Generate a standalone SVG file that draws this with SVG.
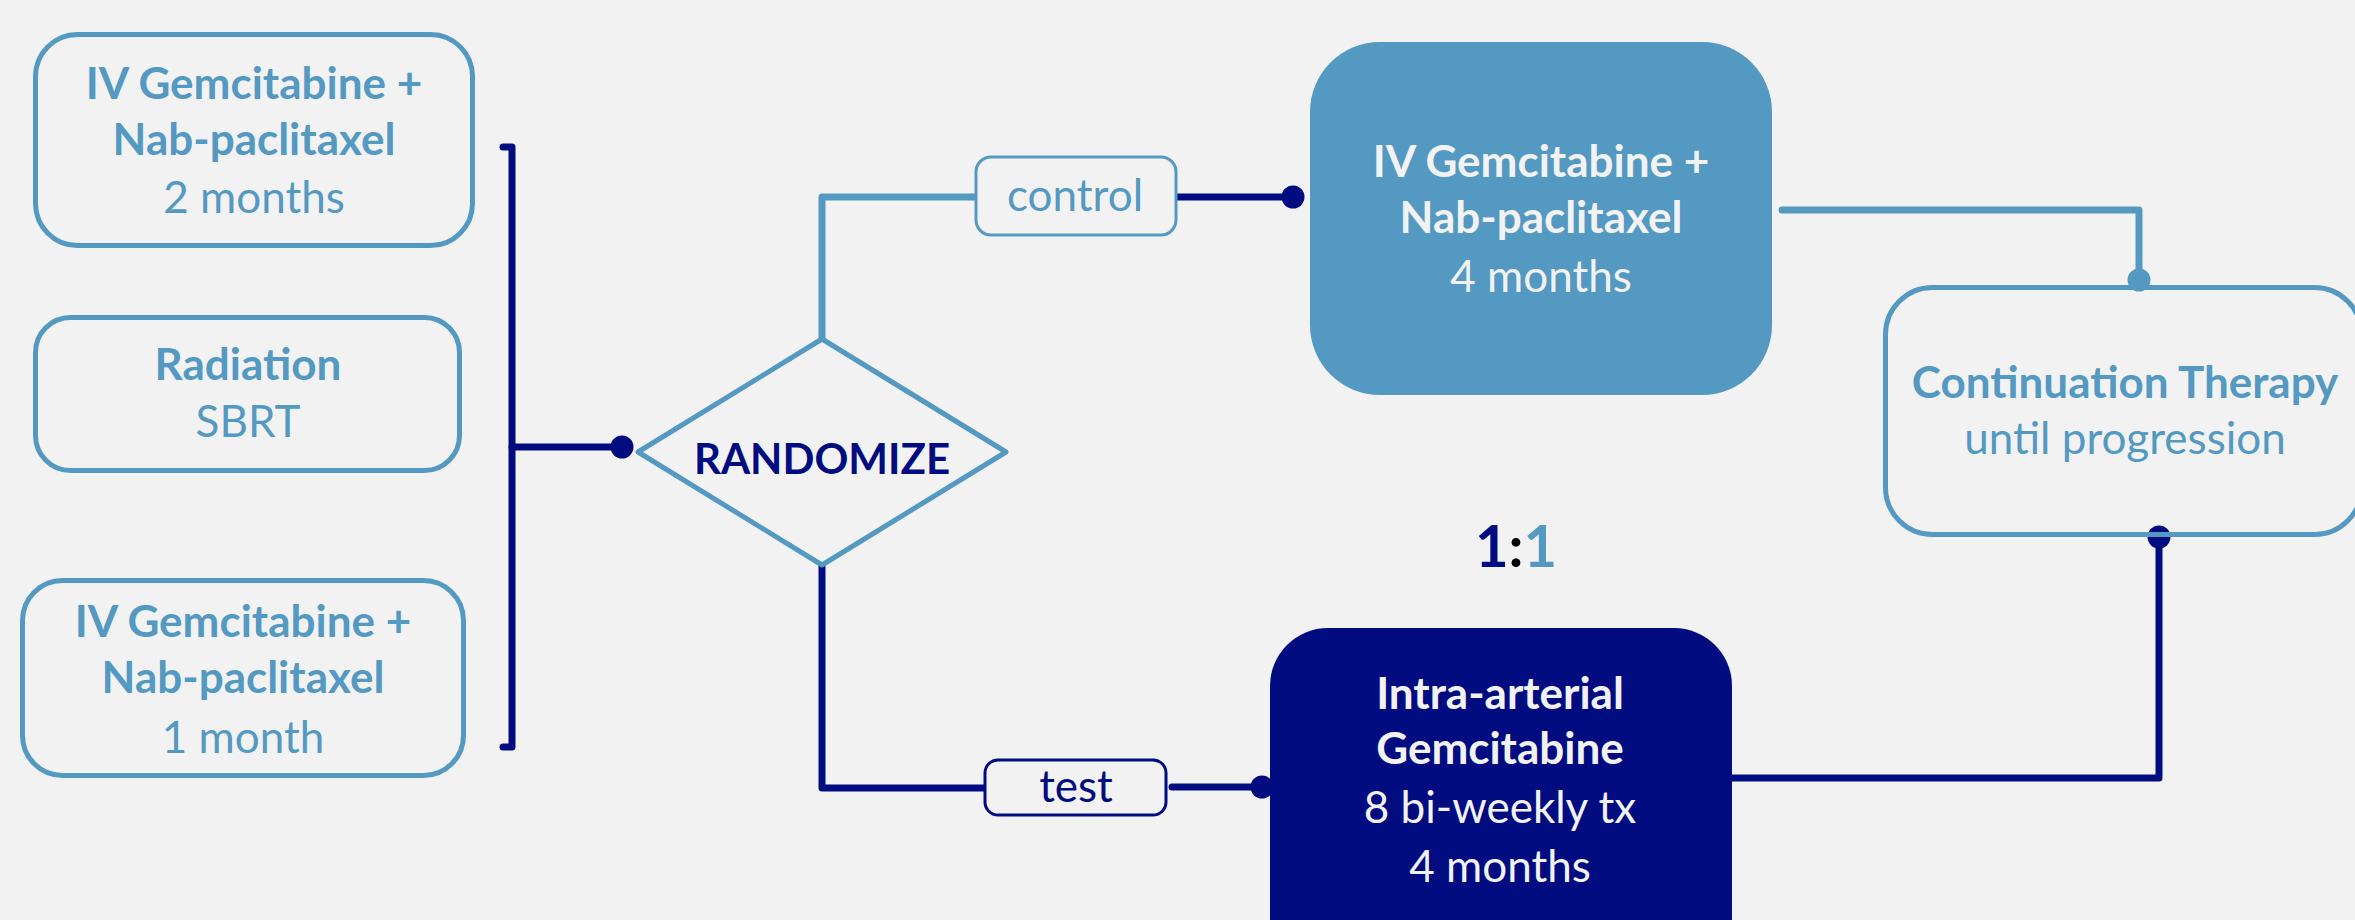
<svg xmlns="http://www.w3.org/2000/svg" width="2355" height="920" viewBox="0 0 2355 920">
<style>
.bg{fill:#F2F2F2}
.ob{fill:none;stroke:#5499C2;stroke-width:5}
.lbl{fill:#F2F2F2;stroke-width:3}
.t{font-family:Lato,"Open Sans","Liberation Sans",sans-serif;text-anchor:middle;font-size:44px}
.b{font-weight:bold}
.lb{fill:#5499C2}
.nv{fill:#000C80}
.wh{fill:#F2F2F2}
.cl{fill:none;stroke:#5499C2;stroke-width:7;stroke-linecap:round;stroke-linejoin:round}
.cn{fill:none;stroke:#000C80;stroke-width:7;stroke-linecap:round;stroke-linejoin:round}
</style>
<rect class="bg" x="0" y="0" width="2355" height="920"/>
<g id="connectors">
<path class="cn" d="M503 147 L512 147 L512 747 L503 747"/>
<path class="cn" d="M512 447 L622 447"/>
<path class="cl" d="M822 339 L822 197 L975 197"/>
<path class="cn" d="M1178 197 L1293 197"/>
<path class="cl" d="M1782 210 L2139 210 L2139 280"/>
<path class="cn" d="M1732 778 L2159 778 L2159 537"/>
<path class="cn" d="M822 563 L822 788 L984 788"/>
<path class="cn" d="M1172 787 L1262 787"/>
<circle class="nv" cx="622" cy="447" r="11.5"/>
<circle class="nv" cx="1293" cy="197" r="11.5"/>
<circle class="nv" cx="1262" cy="787" r="11.5"/>
<circle class="nv" cx="2159" cy="537" r="11.5"/>
<circle class="lb" cx="2139" cy="280" r="11.5"/>
</g>
<g id="box-iv-2m">
<rect class="ob" x="35.5" y="34.5" width="437" height="211" rx="42"/>
<text class="t b lb" x="254" y="99">IV Gemcitabine +</text>
<text class="t b lb" x="254" y="155">Nab-paclitaxel</text>
<text class="t lb" x="254" y="213">2 months</text>
</g>
<g id="box-radiation">
<rect class="ob" x="35.5" y="317.5" width="424" height="153" rx="35"/>
<text class="t b lb" x="248" y="380">Radiation</text>
<text class="t lb" x="248" y="437">SBRT</text>
</g>
<g id="box-iv-1m">
<rect class="ob" x="22.5" y="580.5" width="441" height="195" rx="40"/>
<text class="t b lb" x="243" y="637">IV Gemcitabine +</text>
<text class="t b lb" x="243" y="693">Nab-paclitaxel</text>
<text class="t lb" x="243" y="753">1 month</text>
</g>
<g id="randomize">
<polygon class="bg" points="638,452 822,339 1006,452 822,565" style="stroke:#5499C2;stroke-width:5;stroke-linejoin:round"/>
<text class="t b nv" x="822" y="474" style="font-size:42px">RANDOMIZE</text>
</g>
<g id="label-control">
<rect class="lbl" x="976" y="157" width="200" height="78" rx="15" style="stroke:#5499C2"/>
<text class="t lb" x="1075" y="211">control</text>
</g>
<g id="label-test">
<rect class="lbl" x="985" y="760" width="181" height="55" rx="13" style="stroke:#000C80"/>
<text class="t nv" x="1076" y="802">test</text>
</g>
<g id="box-iv-4m">
<rect x="1310" y="42" width="462" height="353" rx="70" fill="#5499C2"/>
<text class="t b wh" x="1541" y="177">IV Gemcitabine +</text>
<text class="t b wh" x="1541" y="233">Nab-paclitaxel</text>
<text class="t wh" x="1541" y="292">4 months</text>
</g>
<g id="box-continuation">
<rect class="ob" x="1885.5" y="287.5" width="476" height="247" rx="47"/>
<text class="t b lb" x="2125" y="398">Continuation Therapy</text>
<text class="t lb" x="2125" y="454">until progression</text>
</g>
<g id="box-ia">
<rect x="1270" y="628" width="462" height="400" rx="58" fill="#000C80"/>
<text class="t b wh" x="1500" y="709">Intra-arterial</text>
<text class="t b wh" x="1500" y="764">Gemcitabine</text>
<text class="t wh" x="1500" y="823">8 bi-weekly tx</text>
<text class="t wh" x="1500" y="882">4 months</text>
</g>
<g id="ratio">
<text class="t b" x="1516" y="567" style="font-size:58px"><tspan class="nv">1</tspan><tspan fill="#000">:</tspan><tspan class="lb">1</tspan></text>
</g>
</svg>
